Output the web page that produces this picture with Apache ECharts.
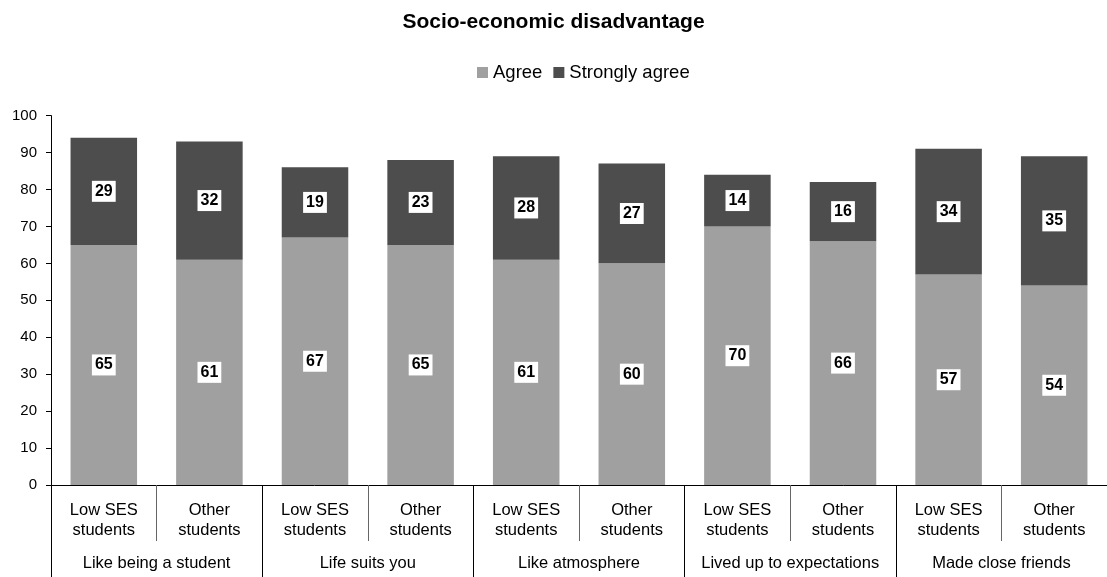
<!DOCTYPE html>
<html>
<head>
<meta charset="utf-8">
<script src="https://cdn.jsdelivr.net/npm/echarts@6/dist/echarts.min.js"></script>
<style>
  html, body { margin: 0; padding: 0; background: #fff; }
  #chart { width: 1107px; height: 577px; }
</style>
</head>
<body>
<div id="chart"></div>
<script>
// Student groups within each statement
const groups = ['Low SES\nstudents', 'Other\nstudents'];
// Survey statements (outer axis level)
const statements = ['Like being a student', 'Life suits you', 'Like atmosphere', 'Lived up to expectations', 'Made close friends'];
// Percentage who agree / strongly agree, two bars per statement
const agree = [65, 61, 67, 65, 61, 60, 70, 66, 57, 54];
const stronglyAgree = [29, 32, 19, 23, 28, 27, 14, 16, 34, 35];
const yTicks = { min: 0, max: 100, interval: 10 };

const categories = [];
statements.forEach(() => groups.forEach(g => categories.push(g)));

const font = "'Liberation Sans', Arial, sans-serif";
const barLabel = {
  show: true,
  position: 'inside',
  backgroundColor: '#fff',
  padding: [3, 3, 2, 3],
  color: '#000',
  fontWeight: 'bold',
  fontSize: 16,
  fontFamily: font
};

const chart = echarts.init(document.getElementById('chart'), null, { renderer: 'canvas' });
chart.setOption({
  animation: false,
  textStyle: { fontFamily: font },
  title: {
    text: 'Socio-economic disadvantage',
    left: 'center',
    top: 7,
    textStyle: { fontSize: 21, fontWeight: 'bold', color: '#000', fontFamily: font }
  },
  legend: {
    top: 58,
    left: 472,
    icon: 'rect',
    itemWidth: 11,
    itemHeight: 11,
    itemGap: 11,
    textStyle: { fontSize: 18.5, color: '#000', fontFamily: font, padding: [0, 0, 0, 0] },
    data: ['Agree', 'Strongly agree']
  },
  grid: { left: 51, right: -7, top: 115.6, bottom: 92, containLabel: false },
  xAxis: [
    {
      type: 'category',
      data: categories,
      position: 'bottom',
      axisLine: { show: true, lineStyle: { color: '#000', width: 1 } },
      axisTick: { show: true, interval: 0, length: 56, lineStyle: { color: '#666' } },
      axisLabel: { interval: 0, margin: 15, fontSize: 16.5, lineHeight: 20, color: '#000', fontFamily: font }
    },
    {
      type: 'category',
      data: statements,
      position: 'bottom',
      axisLine: { show: false },
      axisTick: { show: true, interval: 0, length: 92, lineStyle: { color: '#000' } },
      axisLabel: { interval: 0, margin: 70, fontSize: 16.5, color: '#000', fontFamily: font }
    }
  ],
  yAxis: {
    type: 'value',
    min: yTicks.min,
    max: yTicks.max,
    interval: yTicks.interval,
    axisLine: { show: true, lineStyle: { color: '#000' } },
    axisTick: { show: true, length: 5, lineStyle: { color: '#000' } },
    splitLine: { show: false },
    axisLabel: { fontSize: 15, color: '#000', margin: 14, fontFamily: font }
  },
  series: [
    {
      name: 'Agree',
      type: 'bar',
      stack: 'total',
      xAxisIndex: 0,
      barWidth: '63%',
      itemStyle: { color: '#a0a0a0' },
      label: barLabel,
      data: agree
    },
    {
      name: 'Strongly agree',
      type: 'bar',
      stack: 'total',
      xAxisIndex: 0,
      barWidth: '63%',
      itemStyle: { color: '#4d4d4d' },
      label: barLabel,
      data: stronglyAgree
    }
  ]
});
</script>
</body>
</html>
